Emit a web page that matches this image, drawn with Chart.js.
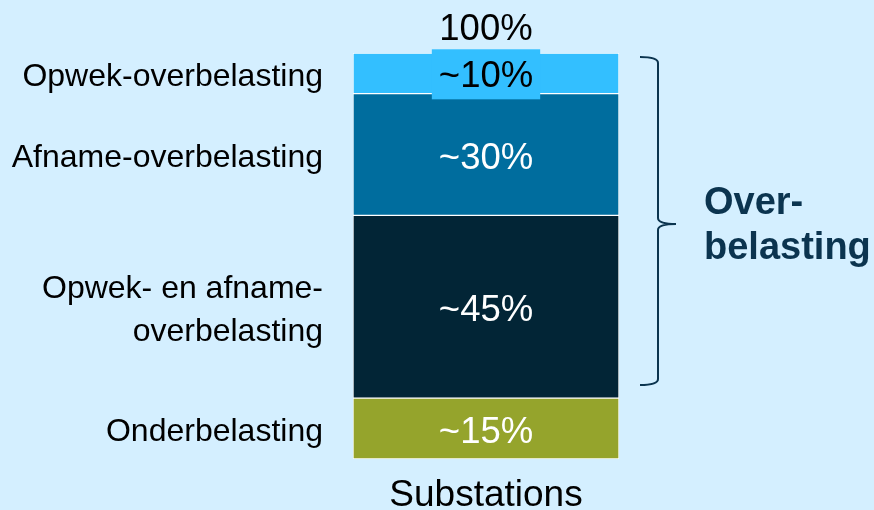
<!DOCTYPE html>
<html>
<head>
<meta charset="utf-8">
<script src="https://cdn.jsdelivr.net/npm/chart.js@4/dist/chart.umd.min.js"></script>
<style>
  html, body { margin: 0; padding: 0; background: #d4efff; }
  #c { display: block; }
</style>
</head>
<body>
<canvas id="c" width="874" height="510"></canvas>
<script>
// ---- data ----
const categories = ['Substations'];
const seriesNames = ['Onderbelasting', 'Opwek- en afname-overbelasting', 'Afname-overbelasting', 'Opwek-overbelasting'];
const seriesValues = [15, 45, 30, 10];
const valueLabels = ['~15%', '~45%', '~30%', '~10%'];
const sideLabelLines = [['Onderbelasting'], ['Opwek- en afname-', 'overbelasting'], ['Afname-overbelasting'], ['Opwek-overbelasting']];
const totalLabel = '100%';
const bracketLabelLines = ['Over-', 'belasting'];
const bracketFromSeries = 1; // bracket spans series index 1..3

// ---- styles ----
const FONT = '"Liberation Sans", Arial, Helvetica, sans-serif';
const fillColors = ['#95a42c', '#022536', '#006d9e', '#33bfff'];
const valueTextColors = ['#ffffff', '#ffffff', '#ffffff', '#000000'];
const labelBoxes = [false, false, false, true];
const navy = '#0b344f';

const overlay = {
  id: 'overlay',
  beforeDraw(chart) {
    const ctx = chart.ctx;
    ctx.save();
    ctx.fillStyle = '#d4efff';
    ctx.fillRect(0, 0, chart.width, chart.height);
    ctx.restore();
  },
  afterDatasetsDraw(chart) {
    const ctx = chart.ctx;
    const area = chart.chartArea;
    ctx.save();
    ctx.textBaseline = 'middle';
    let topY = Infinity;
    chart.data.datasets.forEach((ds, i) => {
      const el = chart.getDatasetMeta(i).data[0];
      const top = Math.min(el.y, el.base), bot = Math.max(el.y, el.base);
      topY = Math.min(topY, top);
      const cy = (top + bot) / 2 + 4;
      // value label
      ctx.font = '36.5px ' + FONT;
      ctx.textAlign = 'center';
      if (labelBoxes[i]) {
        const w = ctx.measureText(valueLabels[i]).width;
        ctx.fillStyle = fillColors[i];
        ctx.fillRect(el.x - w / 2 - 7, cy - 28, w + 14, 50);
      }
      ctx.fillStyle = valueTextColors[i];
      ctx.fillText(valueLabels[i], el.x, cy);
      // side label
      ctx.font = '32px ' + FONT;
      ctx.textAlign = 'right';
      ctx.fillStyle = '#000000';
      const lines = sideLabelLines[i];
      const lh = 43;
      lines.forEach((ln, k) => {
        const y = cy + (k - (lines.length - 1) / 2) * lh;
        ctx.fillText(ln, area.left - 30, y);
      });
    });
    // total label
    const x0 = chart.getDatasetMeta(0).data[0].x;
    ctx.font = '36.5px ' + FONT;
    ctx.textAlign = 'center';
    ctx.fillStyle = '#000000';
    ctx.fillText(totalLabel, x0, topY - 23);

    // bracket
    const firstEl = chart.getDatasetMeta(bracketFromSeries).data[0];
    const bTop = topY + 4;
    const bBot = Math.max(firstEl.y, firstEl.base) - 13;
    const bMid = (bTop + bBot) / 2 + 3;
    const bx = area.right + 39, lx = area.right + 21, tx = area.right + 57;
    ctx.strokeStyle = navy;
    ctx.lineWidth = 2;
    ctx.beginPath();
    ctx.moveTo(lx, bTop);
    ctx.quadraticCurveTo(bx, bTop, bx, bTop + 6);
    ctx.lineTo(bx, bMid - 6);
    ctx.quadraticCurveTo(bx, bMid, tx, bMid);
    ctx.quadraticCurveTo(bx, bMid, bx, bMid + 6);
    ctx.lineTo(bx, bBot - 6);
    ctx.quadraticCurveTo(bx, bBot, lx, bBot);
    ctx.stroke();
    ctx.font = 'bold 38px ' + FONT;
    ctx.textAlign = 'left';
    ctx.fillStyle = navy;
    bracketLabelLines.forEach((ln, k) => {
      ctx.fillText(ln, area.right + 85, bMid - 21 + k * 45);
    });
    ctx.restore();
  }
};

new Chart(document.getElementById('c'), {
  type: 'bar',
  data: {
    labels: categories,
    datasets: seriesNames.map((name, i) => ({
      label: name,
      data: [seriesValues[i]],
      backgroundColor: fillColors[i],
      borderColor: '#ffffff',
      borderWidth: 1,
      borderSkipped: false,
      categoryPercentage: 1,
      barPercentage: 1
    }))
  },
  options: {
    responsive: false,
    animation: false,
    devicePixelRatio: 1,
    layout: { padding: { left: 353, right: 255, top: 53, bottom: 0 } },
    plugins: { legend: { display: false }, tooltip: { enabled: false } },
    scales: {
      x: {
        stacked: true,
        grid: { display: false, drawTicks: false, tickLength: 0 },
        border: { display: false },
        ticks: { color: '#000000', font: { family: FONT, size: 37, lineHeight: 1.0 }, padding: 18 },
        afterFit(scale) { scale.height = 51; }
      },
      y: {
        stacked: true,
        display: false,
        min: 0,
        max: 100
      }
    }
  },
  plugins: [overlay]
});
</script>
</body>
</html>
